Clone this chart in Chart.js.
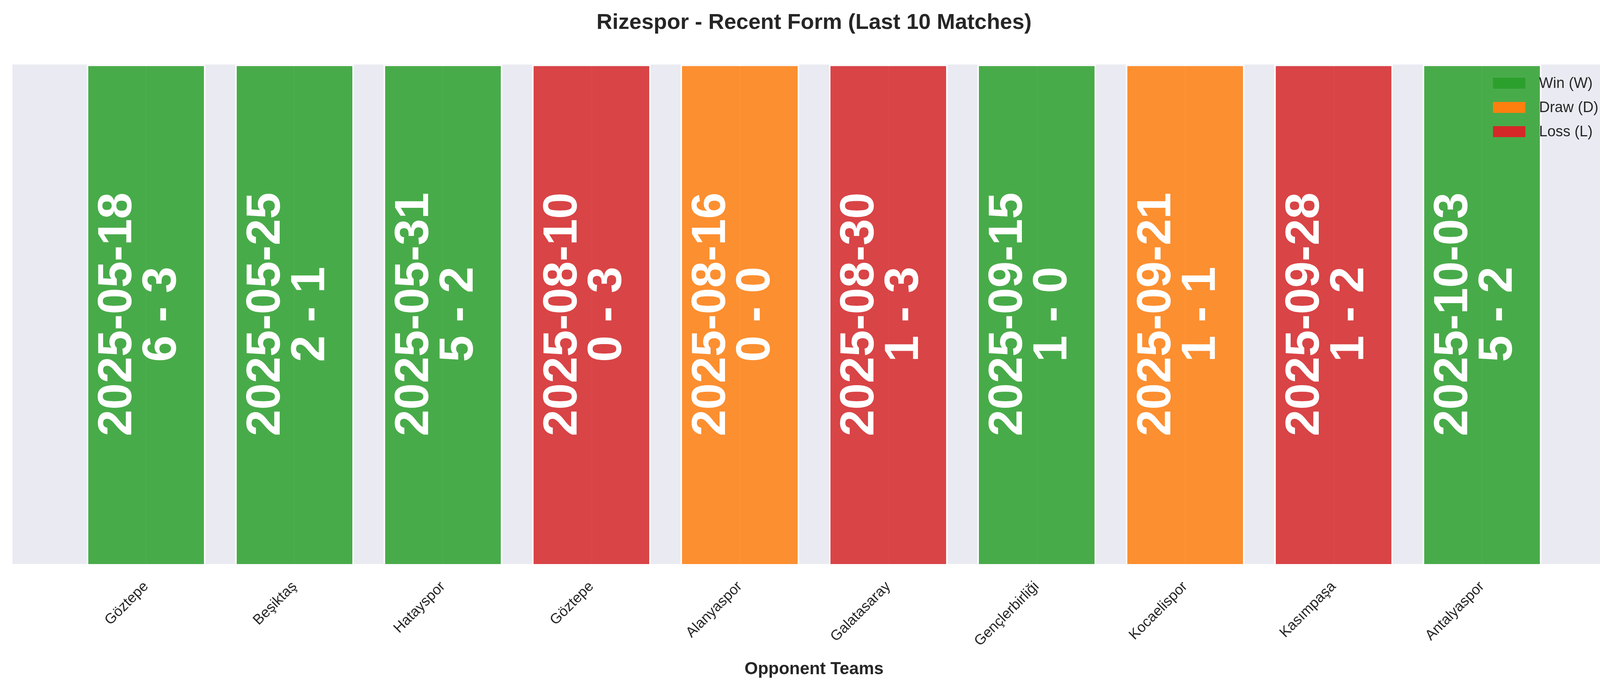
<!DOCTYPE html>
<html><head><meta charset="utf-8">
<script src="https://cdn.jsdelivr.net/npm/chart.js@4"></script>
<style>html,body{margin:0;padding:0;background:#fff;overflow:hidden}canvas{display:block}</style>
</head><body><canvas id="c" width="4170" height="1769" style="width:4170px;height:1769px"></canvas>
<script>
const teams = ["Göztepe","Beşiktaş","Hatayspor","Göztepe","Alanyaspor","Galatasaray","Gençlerbirliği","Kocaelispor","Kasımpaşa","Antalyaspor"];
const dates = ["2025-05-18","2025-05-25","2025-05-31","2025-08-10","2025-08-16","2025-08-30","2025-09-15","2025-09-21","2025-09-28","2025-10-03"];
const scores = ["6 - 3","2 - 1","5 - 2","0 - 3","0 - 0","1 - 3","1 - 0","1 - 1","1 - 2","5 - 2"];
const results = ["W","W","W","L","D","L","W","D","L","W"];
const barValues = [1,1,1,1,1,1,1,1,1,1];
const legendLabels = [["W","Win (W)"],["D","Draw (D)"],["L","Loss (L)"]];
const colors = {W:"rgba(44,160,44,0.85)",D:"rgba(255,127,14,0.85)",L:"rgba(214,39,40,0.85)"};
const solid = {W:"#2ca02c",D:"#ff7f0e",L:"#d62728"};
const F = "'Liberation Sans', Arial, sans-serif";

const bgPlugin = {id:'bg', beforeDraw(ch){const a=ch.chartArea,c=ch.ctx;c.save();c.fillStyle='#EAEAF2';c.fillRect(a.left,a.top,a.right-a.left,a.bottom-a.top);c.restore();}};
const textPlugin = {id:'txt', afterDatasetsDraw(ch){
  const c=ch.ctx,x=ch.scales.x,y=ch.scales.y;
  c.save();c.fillStyle='#fff';c.font='bold 122px '+F;c.textAlign='center';c.textBaseline='middle';
  dates.forEach((d,i)=>{const px=x.getPixelForValue(i)-15,py=y.getPixelForValue(0.5);
    c.save();c.translate(px,py);c.rotate(-Math.PI/2);
    c.fillText(d,0,-57);c.fillText(scores[i],0,57);c.restore();});
  c.font='38px '+F;c.textAlign='left';
  legendLabels.forEach(([k,l],j)=>{const yy=213+j*62;c.fillStyle=solid[k];c.fillRect(3822,yy-14,83,28);c.fillStyle='#262626';c.fillText(l,3940,yy+2);});
  c.restore();}};

new Chart(document.getElementById('c'),{
  type:'bar',
  data:{datasets:[{data:barValues.map((v,i)=>({x:i,y:v})),
    backgroundColor:results.map(r=>colors[r]),borderColor:'rgba(255,255,255,0.85)',borderWidth:4,
    barPercentage:0.8,categoryPercentage:1.0}]},
  options:{responsive:false,devicePixelRatio:1,animation:false,
    layout:{padding:{left:32,right:34,top:0,bottom:29}},
    plugins:{legend:{display:false},tooltip:{enabled:false},
      title:{display:true,text:'Rizespor - Recent Form (Last 10 Matches)',color:'#262626',
        font:{family:F,size:56,weight:'bold'},padding:{top:25,bottom:73}}},
    scales:{
      x:{type:'linear',min:-0.9,max:9.9,offset:false,
        afterBuildTicks(s){s.ticks=teams.map((_,i)=>({value:i}));},
        afterFit(s){s.height=296;},
        ticks:{autoSkip:false,maxRotation:45,minRotation:45,color:'#262626',font:{family:F,size:37},padding:36,
          callback:(v)=>teams[v]??''},
        grid:{color:'#fff',lineWidth:3,drawTicks:false,offset:false},border:{display:false},
        title:{display:true,text:'Opponent Teams',color:'#262626',font:{family:F,size:44,weight:'bold'},padding:0}},
      y:{display:false,min:0,max:1}
    }},
  plugins:[bgPlugin,textPlugin]
});
</script></body></html>
